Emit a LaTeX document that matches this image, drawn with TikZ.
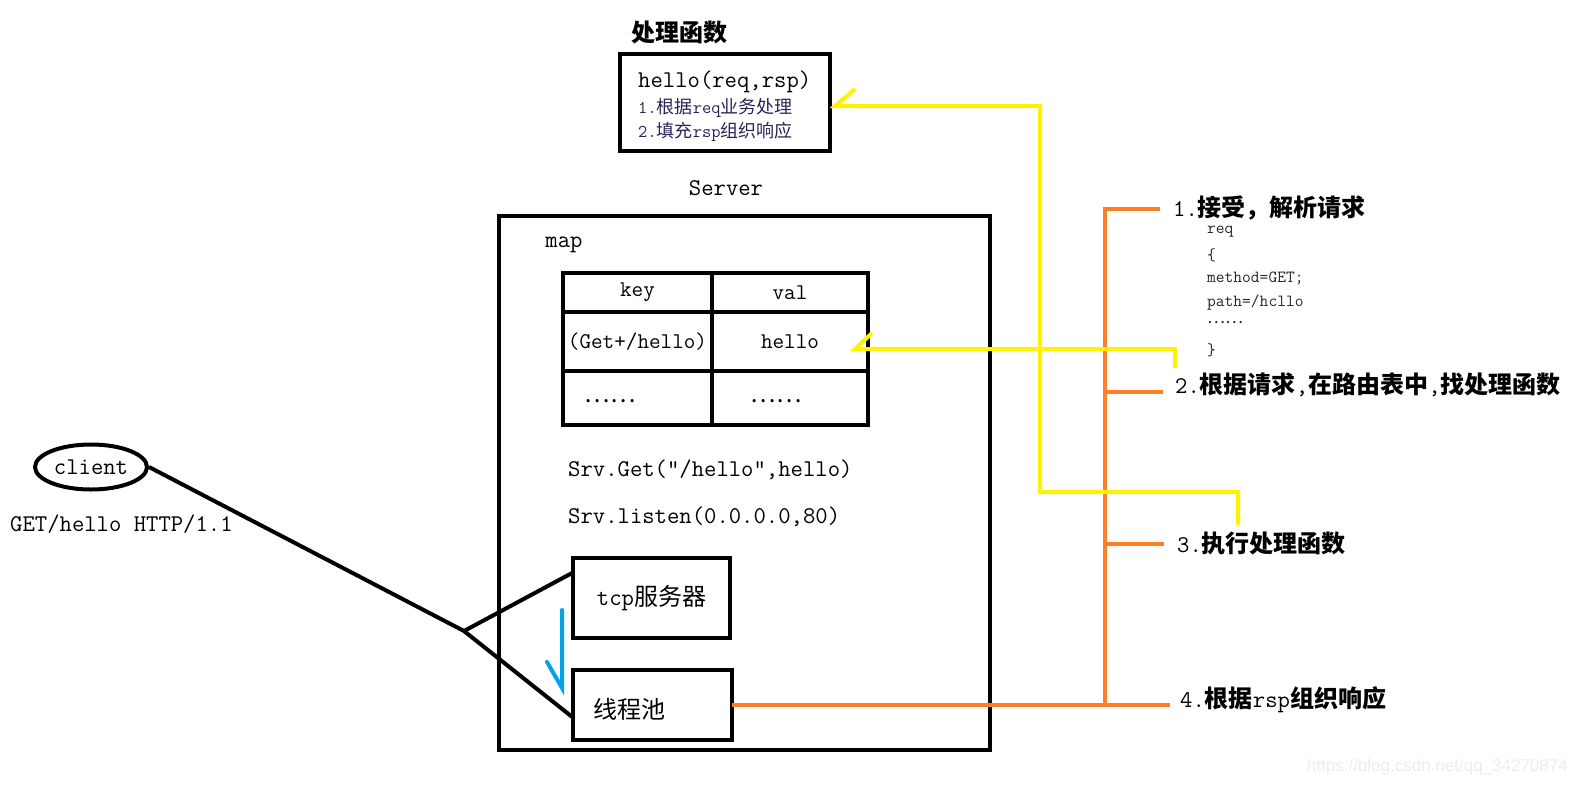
\documentclass[tikz,border=0pt]{standalone}
\usepackage{fontspec}
\newfontfamily\zhfont{Noto Sans CJK SC}
\newfontfamily\wmfont{Liberation Sans}
\usetikzlibrary{shapes.geometric}
\definecolor{ylw}{RGB}{255,242,0}
\definecolor{org}{RGB}{255,127,39}
\definecolor{blu}{RGB}{0,162,232}
\definecolor{ink}{RGB}{45,35,85}
\newcommand\zh[1]{{\zhfont #1}}
\newcommand\zhb[1]{{\zhfont\bfseries #1}}
\newcommand\en[1]{{\ttfamily #1}}
\begin{document}
\begin{tikzpicture}[x=1pt,y=-1pt,
  box/.style={draw, line width=4pt, inner sep=0pt, outer sep=0pt},
  cell/.style={draw, line width=4pt, inner sep=0pt, outer sep=0pt, font=\ttfamily\fontsize{22.5}{26}\selectfont},
  txt/.style={inner sep=0pt, font=\ttfamily\fontsize{24}{28}\selectfont},
  small/.style={inner sep=0pt, font=\ttfamily\fontsize{18}{21}\selectfont, text=ink},
  req/.style={inner sep=0pt, anchor=west, font=\ttfamily\fontsize{17}{20}\selectfont, text=black!85},
  lbl/.style={inner sep=0pt, anchor=west, font=\ttfamily\fontsize{24}{28}\selectfont},
  blk/.style={draw=black, line width=4pt},
  yl/.style={draw=ylw, line width=4pt},
  orl/.style={draw=org, line width=4.5pt}]
\useasboundingbox (0,0) rectangle (1578,785);
\fill[white] (0,0) rectangle (1578,785);

% handler box
\node[txt] (htitle) at (679,32) {\zhb{处理函数}};
\node[box, minimum width=210, minimum height=97] (handler) at (725,102.5) {};
\node[txt, anchor=west] (hsig) at (638,82) {hello(req,rsp)};
\node[small, anchor=west] (h1) at (638,108) {\en{1.}\zh{根据}\en{req}\zh{业务处理}};
\node[small, anchor=west] (h2) at (638,132) {\en{2.}\zh{填充}\en{rsp}\zh{组织响应}};

% server
\node[txt] (srvlbl) at (726,188) {Server};
\node[box, minimum width=491, minimum height=534] (server) at (744.5,483) {};
\node[txt] (maplbl) at (564,245) {map};

% table
\node[cell, minimum width=149, minimum height=39] (c11) at (637.5,292.5) {key};
\node[cell, minimum width=156, minimum height=39] (c12) at (790,292.5) {val};
\node[cell, minimum width=149, minimum height=59] (c21) at (637.5,341.5) {(Get+/hello)};
\node[cell, minimum width=156, minimum height=59] (c22) at (790,341.5) {hello};
\node[cell, minimum width=149, minimum height=54] (c31) at (637.5,398) {};
\node[cell, minimum width=156, minimum height=54] (c32) at (790,398) {};
\node[txt] (d1) at (610,401) {\zh{……}};
\node[txt] (d2) at (776,401) {\zh{……}};

\node[txt, anchor=west] (srvget) at (568,470) {Srv.Get("/hello",hello)};
\node[txt, anchor=west] (srvlisten) at (568,517) {Srv.listen(0.0.0.0,80)};

% tcp and pool
\node[box, minimum width=157, minimum height=80, font=\ttfamily\fontsize{24}{28}\selectfont] (tcp) at (651.5,598) {tcp\zh{服务器}};
\node[box, minimum width=159, minimum height=70] (pool) at (652.5,705) {};
\node[txt, anchor=west] (pooltxt) at (593,709) {\zh{线程池}};

% client
\node[draw, ellipse, line width=4pt, minimum width=112, minimum height=45, inner sep=0pt, font=\ttfamily\fontsize{24}{28}\selectfont] (client) at (91,467) {client};
\node[txt, anchor=west] (getreq) at (10,524) {GET/hello HTTP/1.1};

% black connectors
\coordinate (J) at (464,631);
\draw[blk] (client.east) -- (J) -- (tcp.162);
\draw[blk] (J) -- (pool.189);

% blue arrow
\coordinate (b1) at (562,610);
\coordinate (b2) at (562,688);
\coordinate (b3) at (547,662);
\draw[draw=blu, line width=4pt, line cap=round] (b1) -- (b2) -- (b3);

% right labels
\node[lbl] (l1) at (1173,208) {1.\zhb{接受，解析请求}};
\node[req] (r1) at (1207,232) {req};
\node[req] (r2) at (1207,255) {\{};
\node[req] (r3) at (1207,278) {method=GET;};
\node[req] (r4) at (1207,302) {path=/hcllo};
\node[req] (r5) at (1207,323) {\zh{……}};
\node[req] (r6) at (1207,350) {\}};
\node[lbl] (l2) at (1175,385) {2.\zhb{根据请求},\zhb{在路由表中},\zhb{找处理函数}};
\node[lbl] (l3) at (1177,543) {3.\zhb{执行处理函数}};
\node[lbl] (l4) at (1180,700) {4.\zhb{根据}rsp\zhb{组织响应}};

% orange bracket
\coordinate (o1) at (1160,209);
\coordinate (o2) at (1163,392);
\coordinate (o3) at (1164,544);
\coordinate (o4) at (1170,705);
\draw[orl] (o1) -| (1105,707);
\draw[orl] (1105,392) -- (o2);
\draw[orl] (1105,544) -- (o3);
\draw[orl] (pool.east) -- (o4);

% yellow connectors
\coordinate (y1s) at (1238,525);
\coordinate (y1t) at (835,106);
\draw[yl] (y1s) |- (1040,492) |- (y1t) -- ++(20,-17);
\coordinate (y2s) at (1175,368);
\coordinate (y2t) at (855,349);
\draw[yl] (y2s) |- (y2t) -- ++(17,-16);

% watermark
\node[anchor=east, inner sep=0pt, text=black!7, font=\wmfont\fontsize{17}{20}\selectfont] (wm) at (1568,767) {https://blog.csdn.net/qq\_34270874};
\end{tikzpicture}
\end{document}
